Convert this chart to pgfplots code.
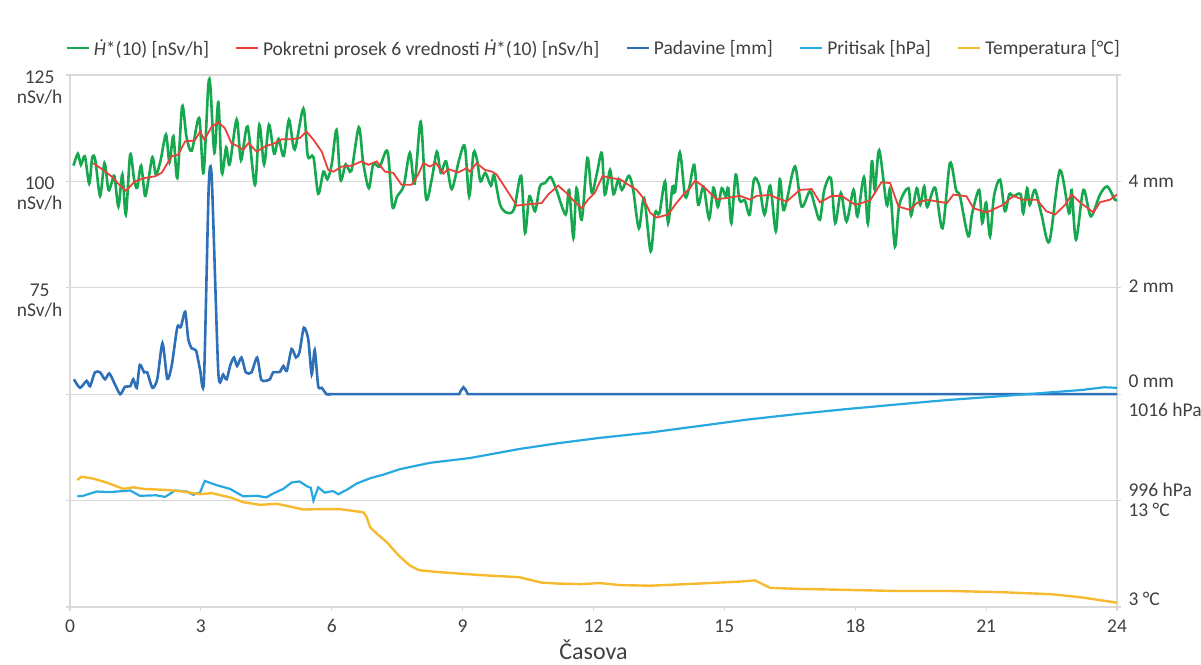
\documentclass[border=0pt]{standalone}
\usepackage{fontspec}
\setmainfont{Carlito}
\usepackage{pgfplots}
\pgfplotsset{compat=1.18}
\usepackage{pgfplotstable}

\definecolor{cDose}{RGB}{22,168,79}
\definecolor{cAvg}{RGB}{232,65,58}
\definecolor{cRain}{RGB}{46,112,183}
\definecolor{cPres}{RGB}{40,168,224}
\definecolor{cTemp}{RGB}{247,186,47}
\definecolor{gridgray}{RGB}{217,217,217}
\definecolor{textgray}{RGB}{64,64,64}

% Ambient dose equivalent rate H*(10), nSv/h
\pgfplotstableread{
t h
0.08 103.7
0.18 106.5
0.25 103.9
0.34 105.9
0.44 99.5
0.51 105.6
0.58 105.0
0.69 96.6
0.79 104.3
0.88 98.0
0.95 99.5
1.02 101.2
1.11 94.1
1.20 101.6
1.28 92.2
1.38 106.3
1.47 100.4
1.54 98.5
1.63 103.7
1.72 96.6
1.80 100.5
1.89 105.7
1.97 101.6
2.08 105.1
2.20 111.0
2.28 104.5
2.37 110.6
2.46 100.8
2.57 117.6
2.67 110.5
2.79 107.2
2.96 114.9
3.06 102.0
3.17 122.5
3.22 121.9
3.31 106.7
3.40 118.6
3.48 102.0
3.58 108.0
3.66 104.0
3.82 114.5
3.92 105.0
4.07 112.9
4.24 99.2
4.34 113.3
4.45 104.0
4.56 113.3
4.68 106.5
4.78 110.0
4.90 106.0
5.02 114.5
5.15 107.5
5.35 117.1
5.45 106.0
5.58 105.7
5.69 97.1
5.81 102.3
5.90 100.5
6.00 104.0
6.11 112.1
6.20 100.4
6.32 104.0
6.45 102.5
6.62 112.7
6.72 104.5
6.85 98.4
6.95 104.0
7.10 103.5
7.28 107.0
7.39 94.1
7.50 96.5
7.65 99.0
7.79 106.7
7.90 99.5
8.04 114.0
8.16 96.1
8.29 100.4
8.41 107.0
8.50 102.0
8.62 104.7
8.75 98.2
8.92 105.1
9.05 108.2
9.15 96.5
9.25 106.7
9.33 105.0
9.41 100.0
9.52 102.0
9.65 99.0
9.72 101.5
9.86 94.5
10.02 92.6
10.18 93.5
10.34 101.3
10.43 87.9
10.53 96.5
10.66 93.0
10.77 98.8
10.89 99.6
11.02 101.0
11.15 98.0
11.36 92.2
11.44 98.0
11.54 86.7
11.61 98.4
11.73 91.0
11.86 105.5
11.96 97.3
12.08 102.0
12.19 106.7
12.26 96.9
12.38 102.7
12.46 97.0
12.57 100.5
12.65 98.0
12.81 101.3
12.91 98.0
13.04 89.0
13.16 96.1
13.31 83.6
13.41 92.6
13.51 92.5
13.64 100.0
13.71 90.2
13.81 98.8
13.87 97.5
13.98 106.8
14.10 96.5
14.20 98.8
14.31 103.9
14.40 94.5
14.52 98.8
14.65 91.2
14.75 98.5
14.85 94.0
14.94 98.4
15.03 96.5
15.09 98.4
15.16 90.2
15.26 101.6
15.35 95.5
15.47 95.5
15.58 92.2
15.68 100.5
15.80 99.0
15.92 92.2
16.05 99.0
16.18 88.3
16.27 100.5
16.35 93.3
16.44 96.0
16.62 103.5
16.77 94.1
16.96 97.7
17.08 94.0
17.19 91.0
17.29 98.0
17.44 100.8
17.54 90.2
17.67 97.3
17.80 90.6
17.96 98.0
18.05 91.8
18.20 101.0
18.29 90.1
18.38 104.7
18.45 98.0
18.55 107.3
18.72 94.5
18.80 98.0
18.91 84.7
19.01 94.5
19.22 98.4
19.28 92.0
19.41 98.4
19.49 94.5
19.58 98.8
19.65 94.0
19.83 98.5
20.00 89.0
20.17 104.3
20.31 98.0
20.40 96.5
20.59 87.1
20.68 92.5
20.84 98.0
20.91 90.2
21.00 95.0
21.09 87.1
21.18 96.5
21.32 100.4
21.43 93.0
21.53 97.0
21.62 96.5
21.79 97.0
21.85 92.5
21.94 98.4
22.00 94.5
22.12 98.0
22.27 92.2
22.45 85.9
22.69 102.6
22.90 92.5
22.96 98.0
23.06 86.3
23.23 98.0
23.40 91.8
23.61 96.9
23.78 98.8
23.95 95.7
24.00 95.8
}\dose

% Moving average of 6 values
\pgfplotstableread{
t h
0.53 104.3
0.73 102.9
0.95 101.2
1.15 99.0
1.28 97.8
1.49 100.0
1.72 100.8
1.95 101.2
2.10 102.0
2.33 105.9
2.48 106.3
2.64 109.4
2.86 109.6
2.98 111.7
3.08 109.8
3.25 112.9
3.40 113.9
3.55 112.5
3.70 109.0
3.86 108.2
3.97 107.4
4.09 109.0
4.28 107.0
4.47 108.2
4.70 109.0
4.85 109.9
5.08 109.9
5.27 110.2
5.42 111.7
5.58 109.8
5.77 107.0
5.92 102.7
6.04 102.3
6.23 103.5
6.46 103.7
6.68 104.7
6.84 103.9
7.03 104.7
7.22 102.3
7.41 102.0
7.60 99.2
7.83 99.2
7.98 101.6
8.10 104.3
8.25 103.5
8.39 104.3
8.56 101.8
8.67 102.9
8.90 102.1
9.09 103.1
9.17 102.3
9.32 104.3
9.51 102.7
9.67 102.3
9.78 101.6
10.01 98.0
10.24 94.3
10.39 94.5
10.58 94.7
10.81 94.9
10.96 96.9
11.19 99.0
11.38 97.3
11.54 95.5
11.73 93.7
11.88 95.8
12.03 97.3
12.21 101.3
12.38 100.8
12.61 100.5
12.80 99.2
12.99 98.0
13.14 96.1
13.30 92.6
13.45 91.5
13.71 92.2
13.87 94.5
14.06 96.9
14.21 98.4
14.33 100.2
14.52 98.8
14.67 97.3
14.82 95.8
15.05 96.1
15.36 96.6
15.59 95.7
15.74 96.6
16.05 96.8
16.20 96.1
16.43 95.3
16.73 98.0
17.00 98.2
17.19 95.1
17.46 96.6
17.69 96.6
18.00 94.5
18.34 95.5
18.45 97.3
18.60 99.8
18.80 99.6
18.99 94.1
19.25 93.3
19.41 94.9
19.64 95.7
19.87 95.3
20.10 94.9
20.25 96.9
20.55 96.5
20.71 93.7
21.01 92.7
21.39 94.5
21.62 96.6
21.85 95.7
22.16 95.7
22.38 93.0
22.58 92.2
22.81 94.5
22.96 96.9
23.15 95.1
23.46 92.7
23.61 95.1
23.84 95.7
24.00 96.9
}\doseavg

% Precipitation, mm (rainy morning)
\pgfplotstableread{
t mm
0.09 0.28
0.23 0.12
0.38 0.25
0.46 0.15
0.57 0.41
0.69 0.41
0.80 0.28
0.90 0.39
1.01 0.22
1.15 0.00
1.26 0.14
1.38 0.15
1.45 0.28
1.53 0.12
1.60 0.55
1.70 0.41
1.77 0.41
1.89 0.12
2.00 0.28
2.12 0.96
2.23 0.29
2.33 0.53
2.46 1.26
2.54 1.26
2.64 1.55
2.71 1.04
2.79 0.86
2.89 0.82
2.98 0.47
3.07 0.25
3.18 3.90
3.25 4.05
3.40 0.41
3.51 0.37
3.59 0.28
3.68 0.56
3.76 0.69
3.83 0.53
3.93 0.69
4.03 0.41
4.16 0.41
4.29 0.69
4.38 0.28
4.47 0.25
4.58 0.28
4.66 0.41
4.81 0.42
4.89 0.53
4.97 0.44
5.08 0.85
5.18 0.69
5.26 0.79
5.36 1.25
5.46 1.04
5.54 0.37
5.61 0.83
5.69 0.15
5.77 0.12
5.88 0.00
5.98 0.00
}\rain

% Precipitation, mm (dry rest of the day)
\pgfplotstableread{
t mm
5.88 0.00
8.92 0.00
8.97 0.08
9.02 0.13
9.07 0.08
9.12 0.00
24.00 0.00
}\raindry

% Air pressure, hPa
\pgfplotstableread{
t p
0.17 996.8
0.30 996.9
0.61 997.7
0.92 997.6
1.38 997.9
1.60 996.9
1.97 997.0
2.18 996.7
2.41 997.9
2.68 997.7
2.83 997.1
2.98 997.5
3.09 999.7
3.36 998.9
3.67 998.2
3.97 996.8
4.28 996.9
4.50 996.6
4.65 997.3
4.89 998.2
5.08 999.4
5.26 999.6
5.43 998.7
5.52 998.4
5.58 996.0
5.69 998.5
5.84 997.5
6.03 997.8
6.15 997.2
6.38 998.2
6.57 999.2
6.88 1000.2
7.19 1000.9
7.56 1001.9
8.25 1003.1
9.17 1004.0
10.30 1005.7
11.20 1006.8
12.15 1007.8
13.30 1008.8
14.40 1010.0
15.50 1011.2
16.70 1012.3
17.80 1013.2
19.00 1014.1
20.10 1014.9
21.30 1015.6
22.40 1016.3
23.20 1016.8
23.70 1017.3
24.00 1017.2
}\pressure

% Air temperature, degrees C
\pgfplotstableread{
t T
0.17 14.93
0.26 15.24
0.50 15.10
0.84 14.70
1.22 14.10
1.45 14.25
1.68 14.10
2.22 14.00
2.60 13.85
2.98 13.60
3.25 13.70
3.67 13.30
3.97 12.85
4.36 12.60
4.74 12.70
5.04 12.44
5.35 12.16
5.73 12.20
6.19 12.20
6.42 12.07
6.73 11.90
6.80 11.44
6.88 10.50
7.03 9.90
7.26 9.10
7.53 7.86
7.79 6.90
8.00 6.46
8.48 6.27
9.40 6.00
10.30 5.80
10.80 5.30
11.20 5.20
11.70 5.15
12.15 5.25
12.60 5.06
13.30 5.00
14.40 5.20
15.40 5.40
15.70 5.50
16.05 4.80
16.70 4.70
17.90 4.60
19.00 4.50
20.20 4.50
21.30 4.40
22.50 4.20
23.20 3.90
24.00 3.40
}\temperature

\pgfplotsset{
  layer/.style={scale only axis, width=1047pt, height=532pt, xmin=0, xmax=24},
  overlay layer/.style={layer, hide axis},
}
\newcommand{\lblfont}{\fontsize{19.5}{20}\selectfont}

\begin{document}
\begin{tikzpicture}
\begin{axis}[layer,
  ymin=0, ymax=125,
  clip mode=individual,
  axis line style={draw=gridgray, line width=1.2pt},
  xtick={0,3,...,24}, xtick pos=bottom,
  ytick={0,25,...,125}, ytick pos=both,
  yticklabels={{},{},{},{75\\nSv/h},{100\\nSv/h},{125\\nSv/h}},
  ymajorgrids, grid style={gridgray, line width=1.2pt},
  tick style={gridgray, line width=1.2pt},
  tick align=outside, major tick length=4pt,
  /pgf/number format/assume math mode=true,
  ticklabel style={font=\lblfont, text=textgray},
  xticklabel style={yshift=-5pt},
  yticklabel style={align=center, anchor=east, yshift=-12.5pt},
  xlabel={Časova},
  xlabel style={font=\fontsize{24}{26}\selectfont, text=textgray, yshift=0pt},
  legend style={at={(0.5,1)}, anchor=south, yshift=14pt, draw=none,
    font=\lblfont, text=textgray, legend columns=-1,
    /tikz/every even column/.append style={column sep=24pt},
    /tikz/every odd column/.append style={column sep=2pt}},
  legend image code/.code={\draw[#1] (0pt,0pt) -- (22pt,0pt);},
]
\addplot[cDose, line width=2.6pt, smooth, tension=0.5] table[x=t, y=h] {\dose};
\addlegendentry{\textit{Ḣ}*(10) [nSv/h]}
\addplot[cAvg, line width=1.8pt] table[x=t, y=h] {\doseavg};
\addlegendentry{Pokretni prosek 6 vrednosti \textit{Ḣ}*(10) [nSv/h]}
\addlegendimage{cRain, line width=2.4pt}
\addlegendentry{Padavine [mm]}
\addlegendimage{cPres, line width=2.4pt}
\addlegendentry{Pritisak [hPa]}
\addlegendimage{cTemp, line width=2.4pt}
\addlegendentry{Temperatura [°C]}
% right-hand scale labels for the secondary quantities
\begin{scope}[every node/.style={anchor=west, font=\lblfont, text=textgray, xshift=8pt}]
\node at (axis cs:24,100) {4 mm};
\node at (axis cs:24,75.3) {2 mm};
\node at (axis cs:24,53.0) {0 mm};
\node at (axis cs:24,46.3) {1016 hPa};
\node at (axis cs:24,27.5) {996 hPa};
\node at (axis cs:24,22.9) {13 °C};
\node at (axis cs:24,2.0) {3 °C};
\end{scope}
\end{axis}

% precipitation: 0 mm on the 50 line, 4 mm on the 100 line
\begin{axis}[overlay layer, ymin=-4, ymax=6]
\addplot[cRain, line width=2.6pt, smooth, tension=0.4] table[x=t, y=mm] {\rain};
\addplot[cRain, line width=2.6pt] table[x=t, y=mm] {\raindry};
\end{axis}

% pressure: 996 hPa on the 25 line, 1016 hPa on the 50 line
\begin{axis}[overlay layer, ymin=976, ymax=1076]
\addplot[cPres, line width=2.2pt] table[x=t, y=p] {\pressure};
\end{axis}

% temperature: 3 °C at the bottom, 13 °C on the 25 line
\begin{axis}[overlay layer, ymin=3, ymax=53]
\addplot[cTemp, line width=2.4pt] table[x=t, y=T] {\temperature};
\end{axis}

\pgfresetboundingbox
\useasboundingbox (-70pt,-57pt) rectangle (1131pt,607pt);
\end{tikzpicture}
\end{document}
